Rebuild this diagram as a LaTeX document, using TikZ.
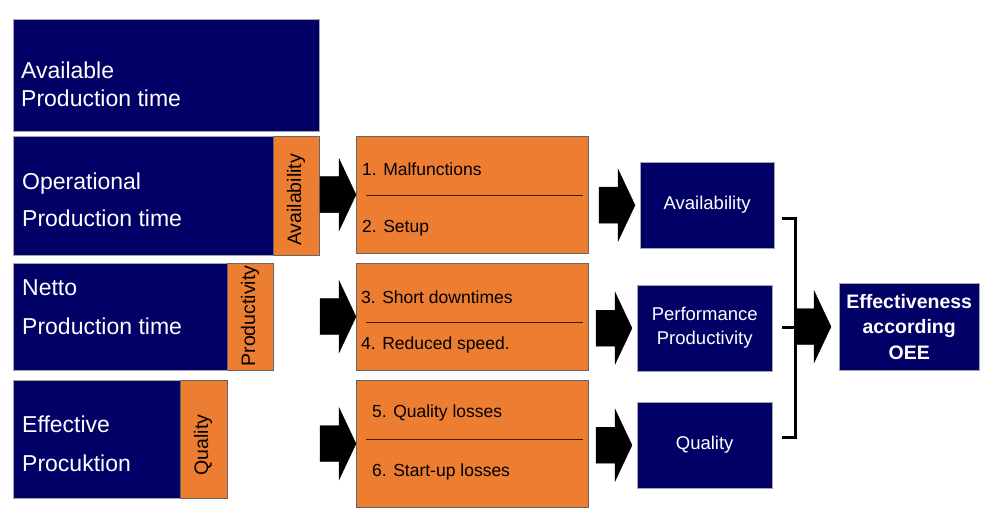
\documentclass[tikz,border=0pt]{standalone}
\usepackage{fontspec}
\setmainfont{Liberation Sans}
\usetikzlibrary{calc}

\definecolor{oeeNavy}{RGB}{0,0,102}
\definecolor{oeeOrange}{RGB}{237,125,49}

\tikzstyle{timeBox}=[shape=rectangle,draw=gray!70,fill=oeeNavy,anchor=north west,inner sep=0pt]
\tikzstyle{factorStrip}=[shape=rectangle,draw=black!60,fill=oeeOrange,anchor=north west,inner sep=0pt]
\tikzstyle{lossBox}=[shape=rectangle,draw=black!60,fill=oeeOrange,anchor=north west,inner sep=0pt]
\tikzstyle{resultBox}=[shape=rectangle,draw=gray!70,fill=oeeNavy,anchor=north west,inner sep=0pt,text=white,align=center,font=\fontsize{18.5}{24}\selectfont]
\tikzstyle{timeText}=[anchor=west,inner sep=0pt,text=white,align=left,font=\fontsize{23}{28}\selectfont]
\tikzstyle{stripText}=[rotate=90,inner sep=0pt,font=\fontsize{19.5}{22}\selectfont]
\tikzstyle{lossText}=[anchor=west,inner sep=0pt,font=\fontsize{17.5}{20}\selectfont]
\tikzstyle{lossLine}=[draw=black!75!oeeOrange,line width=0.8pt]
\tikzstyle{bracketLine}=[draw=black,line width=3pt]

\tikzset{
  blockArrow/.style={fill=black,
    to path={let \p1=(\tikztotarget) in
      (\x1-#1-36pt,\y1-18pt) -- (\x1-#1-17pt,\y1-18pt) -- (\x1-#1-17pt,\y1-36pt)
      -- (\x1-#1,\y1) -- (\x1-#1-17pt,\y1+36pt) -- (\x1-#1-17pt,\y1+18pt)
      -- (\x1-#1-36pt,\y1+18pt) -- cycle}},
  blockArrow/.default=0pt
}

\begin{document}
\begin{tikzpicture}[x=1pt,y=-1pt]
        \useasboundingbox (0,0) rectangle (993,529);

        % production times
        \node[timeBox,minimum width=306,minimum height=112] (t1) at (13,19)  {};
        \node[timeBox,minimum width=306,minimum height=119] (t2) at (13,136) {};
        \node[timeBox,minimum width=260,minimum height=107] (t3) at (13,263) {};
        \node[timeBox,minimum width=214,minimum height=118] (t4) at (13,380) {};

        \node[factorStrip,minimum width=46,minimum height=119] (f1) at (273,136) {};
        \node[factorStrip,minimum width=46,minimum height=107] (f2) at (227,263) {};
        \node[factorStrip,minimum width=47,minimum height=118] (f3) at (180,380) {};

        \node[timeText] (l1) at (21,84)    {Available\\Production time};
        \node[timeText] (l2) at (22,199.5) {Operational\\[9pt]Production time};
        \node[timeText] (l3) at (22,307.5) {Netto\\[11pt]Production time};
        \node[timeText] (l4) at (22,443.5) {Effective\\[11pt]Procuktion};

        \node[stripText] (a1) at (296,200) {Availability};
        \node[stripText] (a2) at (250,316) {Productivity};
        \node[stripText] (a3) at (203,445) {Quality};

        % losses
        \node[lossBox,minimum width=232,minimum height=117] (b1) at (356,136) {};
        \node[lossBox,minimum width=232,minimum height=107] (b2) at (356,263) {};
        \node[lossBox,minimum width=232,minimum height=127] (b3) at (356,380) {};

        \node[lossText] (m1) at (362,169) {1. Malfunctions};
        \node[lossText] (m2) at (362,228) {2. Setup};
        \node[lossText] (m3) at (361,297) {3. Short downtimes};
        \node[lossText] (m4) at (361,345) {4. Reduced speed.};
        \node[lossText] (m5) at (372,413) {5. Quality losses};
        \node[lossText] (m6) at (372,472) {6. Start-up losses};

        \draw[lossLine] (366,195) -- (583,195);
        \draw[lossLine] (366,322) -- (583,322);
        \draw[lossLine] (366,439) -- (583,439);

        % results
        \node[resultBox,minimum width=134,minimum height=86] (r1) at (640,162) {Availability};
        \node[resultBox,minimum width=135,minimum height=86] (r2) at (637,285) {Performance\\Productivity};
        \node[resultBox,minimum width=135,minimum height=86] (r3) at (637,402) {Quality};
        \node[resultBox,minimum width=140,minimum height=87,font=\bfseries\fontsize{19.5}{25.5}\selectfont] (oee) at (839,283) {Effectiveness\\according\\OEE};

        \coordinate (k1) at (782,219);
        \coordinate (k2) at (782,327);
        \coordinate (k3) at (782,437);
        \coordinate (k0) at (795,327);

        \draw[blockArrow] (f1) to (b1.west);
        \draw[blockArrow] (f2) to (b2.west);
        \draw[blockArrow] (f3) to (b3.west);

        \draw[blockArrow=5pt] (b1) to (r1.west);
        \draw[blockArrow=5pt] (b2) to (r2.west);
        \draw[blockArrow=5pt] (b3) to (r3.west);

        \draw[bracketLine] (k1) -| (k0) |- (k3);
        \draw[bracketLine] (k2) -- (k0);
        \draw[blockArrow=8pt] (k0) to (oee.west);
\end{tikzpicture}
\end{document}
